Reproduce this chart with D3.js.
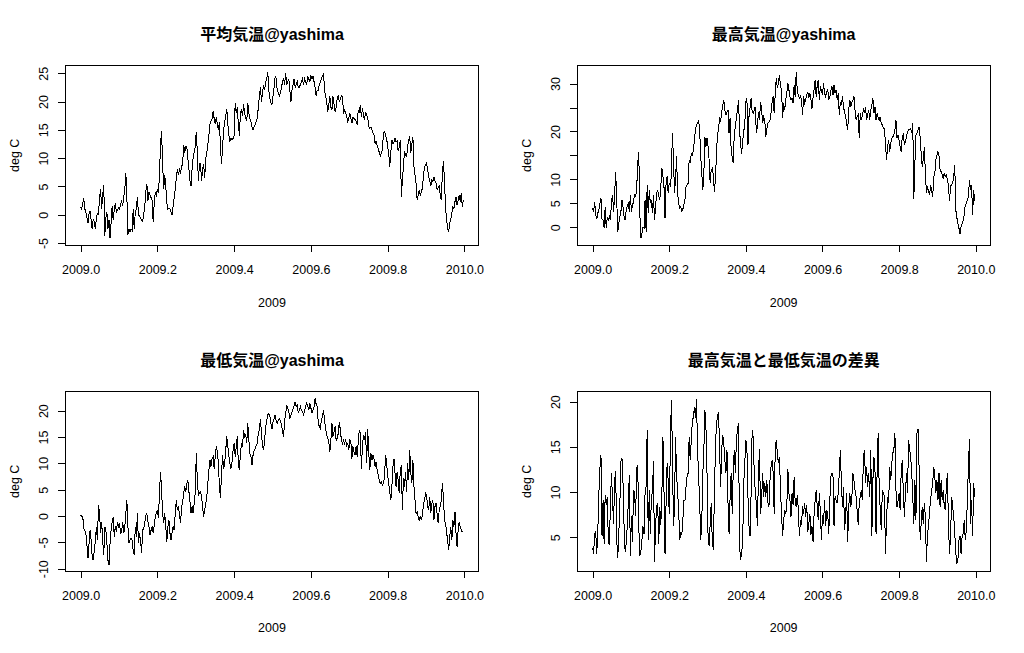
<!DOCTYPE html>
<html>
<head>
<meta charset="utf-8">
<script src="https://cdn.jsdelivr.net/npm/d3@7"></script>
<style>
  body { margin: 0; background: #fff; }
  text { font-family: "Liberation Sans", Arial, sans-serif; fill: #000; }
</style>
</head>
<body>
<svg id="chart" width="1024" height="653"></svg>
<script>
// daily series for 2009 (ts, frequency 365)
const START_YEAR = 2009;
const DAYS_PER_YEAR = 365;

const meanTemp = [
  1.3, 1.0, 2.0, 2.9, 1.0, 0.5, -0.5, -1.5, 0.2, 0.7,
  -1.0, -2.5, -0.8, -1.2, -2.6, -0.5, 0.2, 0.0, 3.0, 4.5,
  1.0, 3.5, 5.3, -3.7, -0.5, 0.5, -2.5, -1.0, -4.2, -1.5,
  1.5, -1.0, 1.0, 2.0, 0.5, 0.8, 1.2, 1.0, 1.8, 2.5,
  1.5, 3.0, 4.5, 7.4, 3.0, -3.5, -2.5, -3.0, -2.5, -2.8,
  1.0, -2.5, 0.5, 1.0, 3.2, 0.0, -0.3, -0.5, -1.0, -1.2,
  0.0, 1.5, 4.0, 5.5, 2.5, 4.0, 3.5, 3.0, 2.5, -1.2,
  2.0, 4.0, 3.5, 4.5, 3.8, 7.0, 12.5, 14.7, 9.0, 4.5,
  7.0, 5.0, 2.0, 1.0, 1.2, 1.0, 0.5, 0.0, 1.5, 3.0,
  4.5, 6.5, 8.0, 7.0, 8.0, 7.5, 8.5, 9.0, 12.3, 11.0,
  12.0, 12.0, 10.0, 8.0, 6.0, 5.0, 8.0, 10.0, 11.0, 12.0,
  14.7, 11.0, 6.0, 9.0, 9.1, 6.0, 8.0, 9.0, 6.5, 10.0,
  11.0, 12.5, 14.0, 16.0, 16.5, 17.0, 18.3, 17.0, 16.0, 17.3,
  16.0, 15.0, 16.3, 12.0, 9.0, 12.0, 15.0, 16.5, 17.5, 18.7,
  16.0, 14.0, 13.0, 13.5, 13.2, 13.5, 14.0, 19.8, 18.0, 19.0,
  16.0, 14.0, 18.0, 18.5, 17.5, 19.5, 18.0, 17.0, 16.5, 19.8,
  18.0, 17.0, 16.5, 15.5, 15.0, 15.5, 16.0, 16.5, 17.0, 19.0,
  21.0, 22.5, 20.0, 21.5, 23.0, 22.0, 23.5, 24.0, 25.3, 22.0,
  20.5, 19.8, 19.5, 21.0, 22.5, 24.5, 24.0, 22.0, 21.5, 21.0,
  21.5, 22.5, 23.5, 24.0, 23.0, 25.0, 23.0, 23.5, 24.0, 22.0,
  20.0, 22.0, 23.0, 24.0, 22.5, 23.0, 23.5, 22.5, 22.5, 23.0,
  23.5, 24.0, 23.0, 24.0, 23.5, 23.0, 24.5, 24.0, 23.5, 24.5,
  24.0, 24.5, 23.5, 22.5, 21.0, 22.0, 22.0, 23.0, 23.5, 24.0,
  24.5, 25.0, 22.0, 21.0, 20.0, 18.2, 19.5, 20.9, 19.0, 18.5,
  20.9, 19.5, 18.2, 19.0, 20.6, 21.0, 20.0, 20.4, 21.0, 20.9,
  17.9, 18.5, 18.0, 17.3, 16.5, 17.0, 17.9, 17.0, 16.2, 17.3,
  17.0, 16.8, 16.5, 15.9, 18.5, 18.0, 19.4, 17.3, 18.8, 17.5,
  16.8, 18.2, 17.5, 17.3, 15.6, 15.3, 15.5, 15.0, 14.5, 14.1,
  12.6, 13.0, 12.3, 11.7, 11.0, 10.3, 10.9, 11.5, 14.4, 14.7,
  14.0, 13.5, 12.0, 10.9, 8.5, 11.0, 13.2, 12.6, 12.8, 13.5,
  12.9, 13.0, 11.2, 12.0, 13.2, 3.2, 6.0, 8.5, 11.2, 10.5,
  10.3, 12.0, 13.2, 13.8, 10.9, 12.5, 13.8, 8.5, 7.0, 5.6,
  2.6, 3.5, 4.4, 3.5, 4.0, 4.7, 6.7, 8.5, 8.8, 9.1,
  8.0, 6.7, 6.0, 5.0, 6.1, 5.8, 6.7, 6.0, 5.6, 4.4,
  4.8, 5.0, 3.5, 2.6, 7.3, 9.4, 6.1, 1.4, -0.9, -2.4,
  -3.0, -1.5, -0.9, 0.25, 1.4, 1.1, 2.3, 3.2, 1.7, 2.5,
  3.5, 2.3, 3.8, 1.4, 2.6
];

const maxTemp = [
  4.0, 3.3, 5.2, 2.6, 1.7, 3.0, 3.6, 5.0, 6.0, 1.7,
  1.5, -0.2, 4.3, -0.2, 2.2, 1.5, 2.2, 1.5, 5.4, 6.8,
  3.3, 6.8, 11.6, 5.7, -0.9, 0.8, 2.2, 3.3, 5.7, 4.3,
  2.2, 1.5, 3.6, 4.5, 5.0, 3.3, 6.8, 3.3, 4.5, 5.4,
  6.8, 6.4, 8.0, 13.4, 15.8, 2.9, -2.3, -1.3, 0.1, -0.2,
  5.7, -0.9, 8.8, 2.9, 7.8, 5.0, 5.7, 2.9, 6.8, 1.5,
  4.3, 7.1, 7.8, 6.5, 5.7, 8.5, 12.3, 10.6, 8.5, 1.9,
  9.2, 10.6, 7.1, 9.2, 8.8, 10.6, 19.6, 14.8, 7.1, 9.9,
  14.8, 7.1, 5.0, 4.0, 4.3, 3.3, 3.8, 4.7, 5.7, 8.5,
  8.8, 9.2, 14.1, 13.4, 15.4, 15.1, 16.0, 18.2, 20.3, 21.4,
  21.8, 22.4, 20.3, 14.8, 11.3, 7.8, 11.3, 18.9, 16.8, 18.6,
  16.8, 14.1, 9.2, 12.0, 12.3, 10.9, 7.4, 9.9, 15.4, 19.6,
  20.3, 23.1, 22.1, 24.0, 25.5, 26.6, 24.5, 23.5, 24.0, 24.5,
  19.6, 22.8, 16.1, 14.5, 13.4, 19.6, 21.0, 23.0, 24.5, 26.6,
  20.3, 17.2, 15.4, 18.2, 20.0, 21.7, 26.2, 26.9, 17.2, 23.1,
  25.0, 26.9, 24.1, 23.8, 24.5, 25.2, 19.6, 21.0, 24.1, 22.4,
  26.2, 24.5, 21.7, 23.0, 22.4, 18.9, 20.5, 21.7, 22.0, 22.4,
  24.0, 26.2, 27.3, 23.8, 28.0, 31.1, 29.0, 30.1, 31.8, 29.5,
  28.7, 22.8, 25.9, 24.5, 26.6, 28.0, 30.1, 28.7, 27.3, 26.6,
  27.0, 25.9, 29.7, 27.3, 32.5, 28.3, 27.5, 26.9, 27.3, 26.6,
  23.5, 27.3, 26.0, 26.6, 27.6, 28.3, 27.0, 28.0, 26.6, 24.8,
  27.0, 28.7, 30.8, 27.3, 29.7, 30.8, 26.6, 29.4, 28.5, 27.6,
  30.1, 28.0, 27.3, 28.3, 28.7, 26.6, 27.3, 28.5, 29.4, 27.6,
  29.7, 28.0, 28.7, 26.6, 28.0, 23.5, 26.2, 25.5, 27.3, 25.2,
  24.0, 23.1, 21.7, 20.3, 24.5, 26.6, 25.2, 26.0, 26.6, 27.3,
  24.5, 22.4, 23.1, 23.5, 18.6, 23.8, 22.4, 23.5, 24.5, 23.8,
  25.2, 22.4, 23.5, 24.5, 22.4, 24.5, 25.5, 26.9, 23.8, 25.2,
  22.4, 23.8, 23.0, 22.4, 23.1, 21.7, 21.4, 20.7, 20.7, 17.5,
  14.1, 16.8, 18.2, 15.8, 17.5, 18.5, 18.9, 19.3, 20.3, 22.4,
  18.6, 19.3, 18.0, 16.8, 15.8, 18.9, 19.3, 17.2, 18.0, 18.9,
  20.0, 20.3, 20.5, 20.7, 19.6, 21.7, 6.0, 13.4, 19.3, 19.6,
  20.3, 21.0, 18.9, 15.4, 12.7, 14.1, 16.8, 11.3, 7.1, 8.5,
  7.5, 6.8, 8.8, 7.5, 6.4, 10.6, 11.3, 14.1, 15.0, 15.8,
  14.8, 12.0, 11.6, 11.0, 10.2, 11.3, 10.6, 10.9, 10.0, 8.5,
  5.4, 8.5, 9.0, 9.2, 10.6, 13.0, 3.6, 2.0, 0.8, -0.2,
  -1.3, 0.1, 0.8, 1.5, 2.6, 4.7, 5.0, 5.7, 6.5, 9.9,
  7.8, 8.8, 2.6, 7.8, 5.4
];

const minTemp = [
  0.2, -0.1, 0.0, -2.3, -2.7, -3.3, -5.5, -8.0, -5.2, -2.7,
  -4.6, -7.7, -8.4, -6.5, -4.9, -2.0, -4.6, 2.1, 0.5, -3.3,
  -1.1, -4.6, -7.4, -2.0, -2.7, -5.2, -8.4, -9.3, -5.2, -2.7,
  -1.1, -0.1, -3.9, -2.0, -3.0, -1.1, -2.0, -1.4, -3.3, -3.0,
  -1.1, -3.3, -2.0, 0.5, 3.0, -2.0, -5.2, -4.6, -4.2, -4.6,
  -6.5, -7.4, -2.0, -3.9, 0.5, -5.2, -3.3, -4.6, -7.1, -2.7,
  -2.3, -1.4, 0.2, 0.5, -1.1, -2.0, -3.6, -2.7, -2.0, -3.3,
  -1.7, -0.1, 0.5, 1.1, -0.4, 4.3, 8.4, 4.9, 0.5, -1.4,
  0.5, -2.0, -4.9, -2.0, -0.8, -3.3, -4.6, -3.0, -2.0, -2.7,
  0.5, 3.0, 1.1, 1.8, 0.5, -1.4, 1.5, 2.7, 4.3, 5.6,
  4.6, 6.2, 6.8, 4.6, 2.7, 0.5, 1.8, 0.5, 2.4, 4.3,
  11.9, 6.8, 4.0, 4.3, 4.6, 3.7, 1.8, -0.1, 1.1, 2.4,
  3.7, 6.2, 8.7, 10.6, 9.4, 10.9, 11.3, 9.0, 11.3, 13.2,
  12.2, 10.0, 5.6, 3.4, 8.1, 11.6, 9.0, 10.0, 12.5, 15.1,
  13.2, 11.3, 10.0, 9.0, 10.3, 12.5, 13.8, 11.3, 13.2, 15.1,
  10.0, 8.7, 11.9, 13.8, 13.2, 16.3, 15.1, 15.4, 13.8, 17.6,
  14.4, 11.9, 11.3, 9.7, 11.6, 12.5, 12.8, 13.5, 13.8, 15.7,
  16.3, 18.5, 15.7, 13.2, 12.5, 14.4, 17.0, 18.2, 19.2, 19.5,
  18.9, 17.5, 16.6, 17.9, 18.5, 19.2, 18.0, 17.6, 18.2, 18.5,
  18.0, 17.3, 16.0, 15.1, 18.2, 19.5, 21.1, 20.5, 19.8, 18.5,
  19.2, 19.8, 20.4, 21.0, 21.7, 20.8, 21.0, 19.5, 20.2, 20.8,
  20.1, 19.8, 19.2, 20.0, 20.8, 21.4, 20.8, 20.1, 21.4, 20.5,
  19.5, 20.2, 20.8, 22.3, 21.2, 20.8, 17.6, 17.0, 16.6, 18.2,
  19.0, 20.1, 18.0, 16.6, 15.4, 14.8, 14.1, 12.2, 14.4, 17.6,
  15.1, 16.0, 17.0, 14.4, 14.7, 15.7, 17.9, 16.3, 14.4, 13.8,
  14.4, 13.5, 14.7, 13.2, 13.8, 12.5, 14.4, 14.1, 10.9, 13.2,
  12.2, 11.6, 13.2, 11.3, 14.1, 16.3, 15.7, 9.0, 13.2, 15.4,
  14.4, 16.0, 10.0, 16.6, 12.2, 8.7, 11.9, 10.6, 11.6, 10.9,
  9.4, 10.3, 8.7, 7.8, 6.8, 6.2, 6.5, 5.9, 6.2, 7.5,
  11.6, 10.0, 7.8, 6.2, 4.6, 3.0, 5.6, 9.4, 10.9, 8.1,
  5.6, 8.4, 6.8, 4.3, 8.7, 9.7, 1.1, 7.2, 5.6, 8.4,
  4.6, 10.0, 6.8, 12.5, 8.1, 6.2, 10.6, 5.6, 3.0, 0.5,
  0.8, -0.1, -0.8, -0.1, -0.8, 0.2, 2.1, 3.0, 4.3, 4.0,
  1.8, 1.1, 3.7, 0.5, 2.4, 3.0, -0.8, 1.8, 2.4, 0.5,
  -1.4, 1.1, 1.8, 3.0, 6.2, 3.7, -0.8, -1.4, -3.0, -4.6,
  -6.5, -3.9, -2.0, -4.6, -0.8, -2.0, 0.8, -3.3, -5.8, -2.7,
  -1.1, -2.0, -2.7, -3.0, -2.8
];

const tempRange = [
  3.8, 3.2, 5.4, 5.6, 3.2, 5.8, 9.9, 12.6, 14.1, 5.1,
  9.1, 4.3, 9.7, 8.6, 9.5, 4.7, 4.1, 8.8, 12.1, 9.1,
  6.5, 11.3, 12.3, 4.7, 2.7, 5.4, 8.8, 13.4, 13.7, 11.0,
  6.2, 3.4, 4.3, 6.2, 8.8, 11.9, 2.9, 7.3, 4.5, 10.2,
  9.9, 7.3, 12.6, 13.0, 6.2, 2.9, 3.4, 4.7, 6.2, 5.4,
  9.9, 10.6, 16.9, 4.7, 10.2, 5.4, 9.5, 9.9, 13.4, 2.3,
  6.2, 8.4, 8.8, 4.3, 8.4, 6.4, 9.7, 16.1, 10.2, 3.2,
  8.8, 13.2, 11.3, 7.6, 14.7, 20.2, 15.0, 6.2, 8.0, 16.1,
  12.1, 9.9, 8.0, 4.7, 5.6, 5.3, 6.9, 9.1, 9.1, 10.6,
  11.7, 12.1, 16.1, 13.5, 15.8, 17.8, 18.3, 19.4, 18.2, 20.3,
  14.7, 11.7, 9.1, 4.7, 6.5, 12.1, 14.7, 19.1, 17.2, 12.1,
  5.1, 4.0, 6.5, 8.8, 4.7, 3.6, 9.5, 14.7, 17.6, 18.3,
  18.9, 14.7, 10.6, 14.7, 16.3, 15.4, 13.5, 12.1, 14.7, 8.8,
  5.4, 9.5, 12.1, 7.6, 12.4, 14.7, 12.1, 15.8, 16.9, 17.6,
  4.0, 2.5, 3.2, 4.7, 11.0, 13.2, 15.8, 14.8, 9.5, 6.2,
  5.1, 9.9, 16.9, 16.1, 12.1, 9.9, 8.8, 6.2, 12.1, 14.8,
  7.6, 9.1, 12.1, 9.5, 11.0, 9.5, 11.3, 8.8, 8.4, 11.3,
  12.8, 13.5, 12.1, 7.6, 15.0, 15.8, 14.3, 13.2, 13.9, 10.2,
  7.6, 5.1, 6.9, 8.0, 7.6, 8.4, 12.6, 9.9, 9.1, 7.3,
  9.9, 8.6, 11.7, 8.8, 8.4, 9.7, 8.0, 5.1, 6.9, 6.4,
  8.4, 7.6, 8.8, 7.3, 8.6, 5.6, 6.5, 7.6, 5.3, 6.2,
  4.5, 7.6, 9.1, 10.2, 8.4, 6.9, 9.9, 7.6, 4.7, 7.5,
  6.5, 9.1, 6.2, 8.0, 7.6, 5.4, 9.1, 11.7, 12.1, 11.7,
  6.2, 9.5, 9.1, 8.8, 9.9, 12.1, 14.7, 11.0, 8.4, 10.6,
  5.8, 7.3, 9.9, 4.5, 8.4, 9.9, 8.4, 9.5, 12.1, 11.3,
  10.2, 9.5, 8.0, 6.4, 8.8, 9.5, 10.2, 9.1, 13.9, 14.7,
  11.0, 12.8, 10.6, 12.1, 9.5, 14.7, 5.1, 11.3, 13.9, 12.4,
  5.4, 12.1, 16.5, 10.6, 8.0, 5.8, 10.2, 9.9, 9.5, 3.2,
  6.9, 9.5, 8.8, 12.8, 11.3, 13.2, 14.3, 14.7, 16.5, 10.2,
  8.4, 9.1, 9.9, 8.0, 12.4, 13.5, 9.9, 7.3, 9.9, 12.1,
  9.9, 15.8, 14.7, 13.9, 12.1, 9.5, 6.5, 11.3, 6.9, 16.5,
  17.0, 12.8, 4.7, 6.5, 8.4, 6.5, 8.8, 7.3, 2.3, 5.4,
  6.2, 8.0, 9.1, 10.2, 11.0, 12.8, 11.7, 9.9, 11.3, 9.1,
  12.1, 8.4, 11.3, 9.1, 10.2, 8.4, 8.0, 10.6, 12.1, 6.2,
  3.2, 5.1, 9.5, 8.4, 7.3, 5.4, 3.2, 2.1, 2.5, 4.7,
  5.1, 3.2, 5.1, 5.4, 6.9, 4.7, 5.8, 9.1, 12.8, 15.9,
  6.5, 9.1, 5.1, 11.0, 9.5
];

const series = [meanTemp, maxTemp, minTemp, tempRange];
const titles = ['平均気温@yashima', '最高気温@yashima', '最低気温@yashima', '最高気温と最低気温の差異'];
const yLimits = [[-5.41, 26.41], [-3.76, 33.82], [-10.43, 23.6], [1.27, 21.1]];
const yTicks = [
  [-5, 0, 5, 10, 15, 20, 25],
  [0, 5, 10, 15, 20, 25, 30],
  [-10, -5, 0, 5, 10, 15, 20],
  [5, 10, 15, 20],
];
// R drops labels that would overlap; these are the ones it kept
const yTickLabels = [
  [-5, 0, 5, 10, 15, 20, 25],
  [0, 5, 10, 20, 30],
  [-10, -5, 0, 5, 10, 15, 20],
  [5, 10, 15, 20],
];
const xTicks = [2009.0, 2009.2, 2009.4, 2009.6, 2009.8, 2010.0];
const xLabel = '2009';
const yLabel = 'deg C';

const panelBoxes = [
  { left: 65.3, right: 478.7, top: 65.3, bottom: 245.3 },
  { left: 577.3, right: 990, top: 65.3, bottom: 245.3 },
  { left: 65.3, right: 478.7, top: 391.7, bottom: 571 },
  { left: 577.3, right: 990, top: 391.7, bottom: 571 },
];

const svg = d3.select('#chart');

svg.append('rect')
  .attr('width', 1024)
  .attr('height', 653)
  .attr('fill', '#fff');

function dayToTime(day) {
  return START_YEAR + day / DAYS_PER_YEAR;
}

function drawPanel(index) {
  const box = panelBoxes[index];
  const values = series[index];
  const span = (values.length - 1) / DAYS_PER_YEAR;

  // same 4% padding R uses for the x range
  const x = d3.scaleLinear()
    .domain([START_YEAR - 0.04 * span, START_YEAR + span + 0.04 * span])
    .range([box.left, box.right]);
  const y = d3.scaleLinear()
    .domain(yLimits[index])
    .range([box.bottom, box.top]);

  const g = svg.append('g').attr('shape-rendering', 'crispEdges');

  g.append('path')
    .datum(values)
    .attr('fill', 'none')
    .attr('stroke', '#000')
    .attr('stroke-width', 1)
    .attr('d', d3.line()
      .x((v, day) => x(dayToTime(day)))
      .y((v) => y(v)));

  g.append('rect')
    .attr('x', box.left)
    .attr('y', box.top)
    .attr('width', box.right - box.left)
    .attr('height', box.bottom - box.top)
    .attr('fill', 'none')
    .attr('stroke', '#000')
    .attr('stroke-width', 1);

  const xAxis = g.append('g')
    .attr('transform', `translate(0,${box.bottom})`)
    .call(d3.axisBottom(x)
      .tickValues(xTicks)
      .tickFormat(d3.format('.1f'))
      .tickSize(7)
      .tickSizeOuter(0)
      .tickPadding(13));
  xAxis.select('.domain').remove();
  xAxis.selectAll('text')
    .attr('font-family', null)
    .style('font-size', '12.5px');

  const labelled = yTickLabels[index];
  const yAxis = g.append('g')
    .attr('transform', `translate(${box.left},0)`)
    .call(d3.axisLeft(y)
      .tickValues(yTicks[index])
      .tickFormat((v) => (labelled.includes(v) ? String(v) : ''))
      .tickSize(7)
      .tickSizeOuter(0));
  yAxis.select('.domain').remove();
  yAxis.selectAll('text')
    .attr('font-family', null)
    .style('font-size', '12.5px')
    .attr('transform', 'rotate(-90)')
    .attr('text-anchor', 'middle')
    .attr('x', 0)
    .attr('y', -17.5)
    .attr('dy', null);

  const midX = (box.left + box.right) / 2;
  const midY = (box.top + box.bottom) / 2;

  svg.append('text')
    .attr('x', midX)
    .attr('y', box.top - 25.8)
    .attr('text-anchor', 'middle')
    .style('font-family', '"Liberation Sans", "Noto Sans CJK JP", sans-serif')
    .style('font-weight', 'bold')
    .style('font-size', '16px')
    .text(titles[index]);

  svg.append('text')
    .attr('x', midX)
    .attr('y', box.bottom + 61.3)
    .attr('text-anchor', 'middle')
    .style('font-size', '12.5px')
    .text(xLabel);

  svg.append('text')
    .attr('transform', `translate(${box.left - 46},${midY}) rotate(-90)`)
    .attr('text-anchor', 'middle')
    .style('font-size', '12.5px')
    .text(yLabel);
}

series.forEach((values, index) => drawPanel(index));
</script>
</body>
</html>
